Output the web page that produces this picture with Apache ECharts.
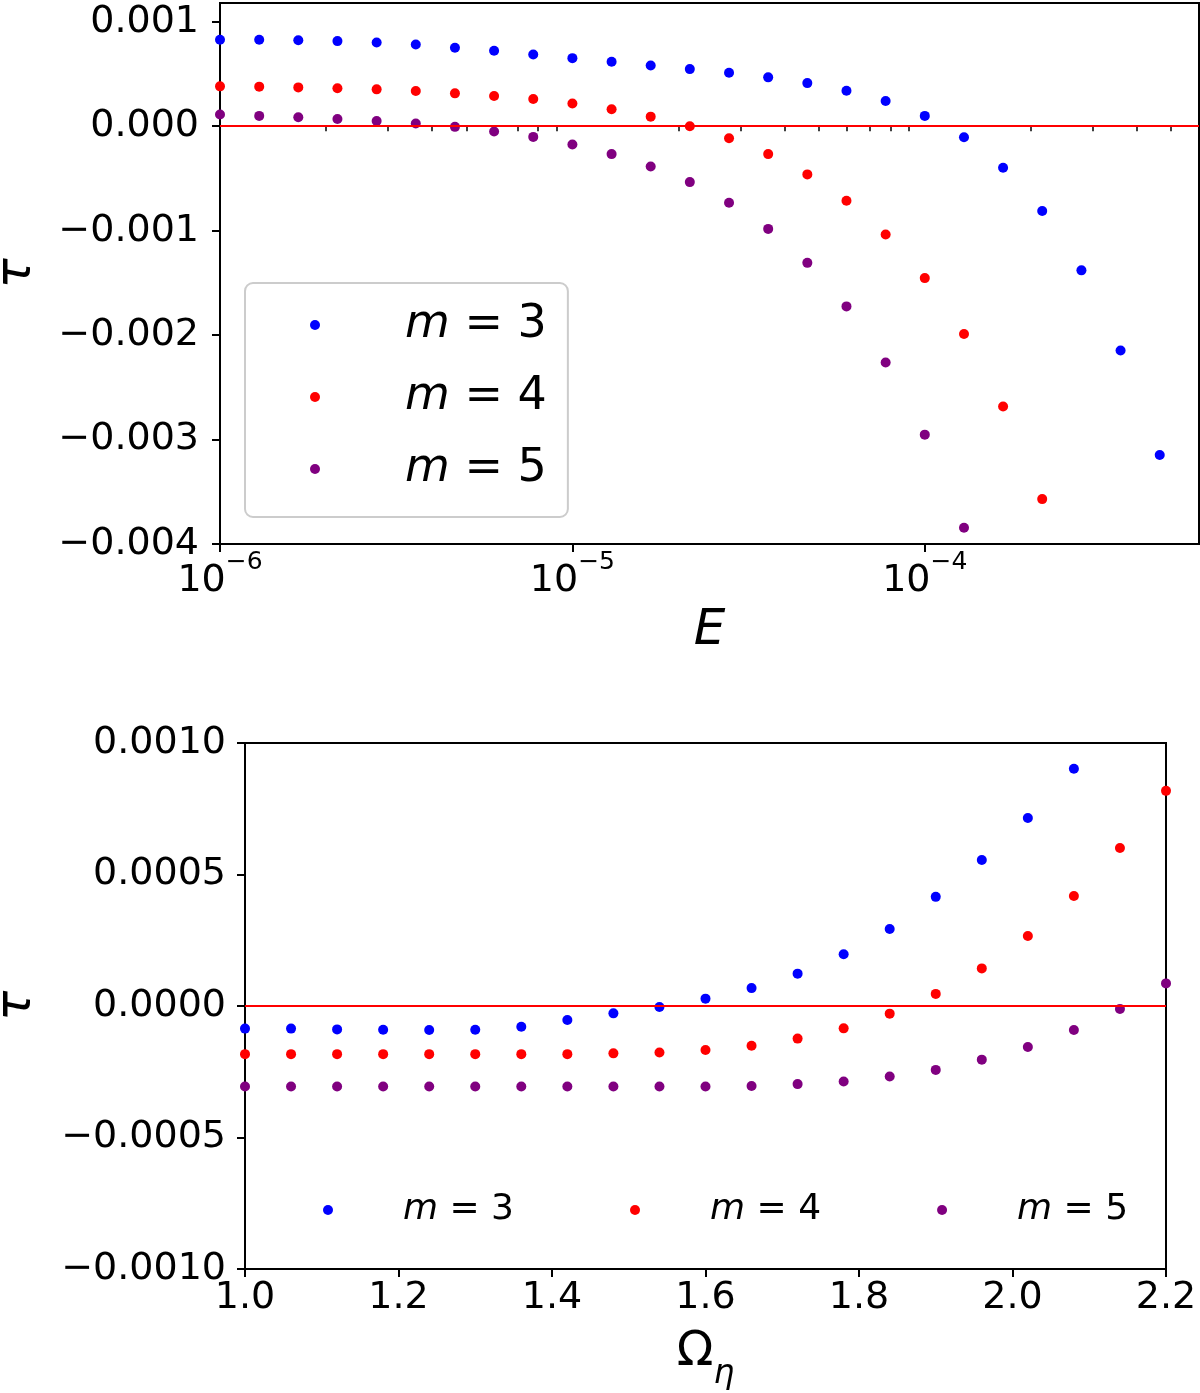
<!DOCTYPE html>
<html>
<head>
<meta charset="utf-8">
<script src="https://cdn.jsdelivr.net/npm/echarts@6/dist/echarts.min.js"></script>
<style>
html, body { margin: 0; padding: 0; background: #fff; }
#main { width: 1200px; height: 1393px; }
</style>
</head>
<body>
<div id="main"></div>
<script>
// top panel: tau against E (log scale)
var E = [1.000e-6, 1.292e-6, 1.668e-6, 2.154e-6, 2.783e-6, 3.594e-6, 4.642e-6, 5.995e-6, 7.743e-6,
         1.000e-5, 1.292e-5, 1.668e-5, 2.154e-5, 2.783e-5, 3.594e-5, 4.642e-5, 5.995e-5, 7.743e-5,
         1.000e-4, 1.292e-4, 1.668e-4, 2.154e-4, 2.783e-4, 3.594e-4, 4.642e-4];
var tauE_m3 = [0.000828, 0.000828, 0.000824, 0.000815, 0.000802, 0.000783, 0.000751, 0.000723, 0.000687,
               0.000652, 0.000618, 0.000582, 0.000547, 0.000512, 0.000468, 0.000413, 0.000340, 0.000242,
               0.000099, -0.000105, -0.000398, -0.000812, -0.001380, -0.002148, -0.003147];
var tauE_m4 = [0.000382, 0.000379, 0.000372, 0.000363, 0.000353, 0.000337, 0.000315, 0.000290, 0.000261,
               0.000217, 0.000162, 0.000092, 0.000000, -0.000115, -0.000267, -0.000461, -0.000713, -0.001037,
               -0.001454, -0.001989, -0.002683, -0.003570];
var tauE_m5 = [0.000112, 0.000099, 0.000086, 0.000070, 0.000051, 0.000026, -0.000006, -0.000051, -0.000102,
               -0.000175, -0.000267, -0.000385, -0.000535, -0.000732, -0.000983, -0.001308, -0.001725, -0.002263,
               -0.002953, -0.003844];

// bottom panel: tau against Omega_eta
var omega = [1.00, 1.06, 1.12, 1.18, 1.24, 1.30, 1.36, 1.42, 1.48, 1.54, 1.60,
             1.66, 1.72, 1.78, 1.84, 1.90, 1.96, 2.02, 2.08, 2.14, 2.20];
var tauO_m3 = [-0.000086, -0.000086, -0.000089, -0.000090, -0.000091, -0.000090, -0.000079, -0.000053, -0.000028,
               -0.000004, 0.000028, 0.000068, 0.000123, 0.000197, 0.000293, 0.000415, 0.000555, 0.000715, 0.000902];
var tauO_m4 = [-0.000183, -0.000183, -0.000183, -0.000183, -0.000183, -0.000183, -0.000183, -0.000183, -0.000180,
               -0.000177, -0.000167, -0.000151, -0.000124, -0.000085, -0.000029, 0.000046, 0.000143, 0.000266,
               0.000418, 0.000601, 0.000818];
var tauO_m5 = [-0.000306, -0.000306, -0.000306, -0.000306, -0.000306, -0.000306, -0.000306, -0.000306, -0.000306,
               -0.000306, -0.000306, -0.000304, -0.000297, -0.000287, -0.000268, -0.000243, -0.000204, -0.000156,
               -0.000091, -0.000011, 0.000086];

var topYTicks = [-0.004, -0.003, -0.002, -0.001, 0, 0.001];
var topXTicks = [1e-6, 1e-5, 1e-4];
var topXMinor = [2e-6, 3e-6, 4e-6, 5e-6, 6e-6, 7e-6, 8e-6, 9e-6,
                 2e-5, 3e-5, 4e-5, 5e-5, 6e-5, 7e-5, 8e-5, 9e-5,
                 2e-4, 3e-4, 4e-4, 5e-4];
var names = ['m = 3', 'm = 4', 'm = 5'];
var colors = ['#0000ff', '#ff0000', '#800080'];

var FONT = 'DejaVu Sans';

function pairs(xs, ys) {
  return ys.map(function (y, i) { return [xs[i], y]; });
}
function fmt(v, d) {
  var s = Math.abs(v).toFixed(d);
  return (v < -1e-12 ? '\u2212' : '') + s;
}

var myChart = echarts.init(document.getElementById('main'), null, { renderer: 'canvas' });

var labelStyle = { color: '#000', fontFamily: FONT, fontSize: 38 };
var lineStyle = { color: '#000', width: 2 };

function scatter(name, data, color, xi, yi) {
  return {
    name: name, type: 'scatter', xAxisIndex: xi, yAxisIndex: yi,
    symbol: 'circle', symbolSize: 10, data: data,
    itemStyle: { color: color, opacity: 1 }, z: 2
  };
}
function zeroLine(xi, yi) {
  return {
    name: 'zero', type: 'scatter', xAxisIndex: xi, yAxisIndex: yi, data: [], z: 3,
    markLine: {
      silent: true, symbol: 'none', animation: false,
      label: { show: false },
      lineStyle: { color: '#ff0000', width: 2, type: 'solid' },
      data: [{ yAxis: 0 }]
    }
  };
}
function legendFmt(name) { return '{i|m}' + name.slice(1); }

var option = {
  backgroundColor: '#fff',
  animation: false,
  grid: [
    { left: 220, top: 3, width: 979, height: 541, show: true, borderColor: '#000', borderWidth: 2,
      outerBoundsMode: 'none', containLabel: false },
    { left: 245, top: 743, width: 921, height: 526, show: true, borderColor: '#000', borderWidth: 2,
      outerBoundsMode: 'none', containLabel: false }
  ],
  legend: [
    {
      data: names, orient: 'vertical', left: 245, top: 283,
      icon: 'circle', itemWidth: 10, itemHeight: 10, itemGap: 16,
      padding: [14, 21, 20, 65],
      backgroundColor: 'rgba(255,255,255,0.8)',
      borderColor: '#cccccc', borderWidth: 2, borderRadius: 8,
      formatter: legendFmt,
      textStyle: {
        color: '#000', fontFamily: FONT, fontSize: 46, lineHeight: 56, padding: [0, 0, 0, 80],
        rich: { i: { fontStyle: 'italic', fontFamily: FONT, fontSize: 46, lineHeight: 56 } }
      }
    },
    {
      data: names, orient: 'horizontal', left: 323, top: 1188,
      icon: 'circle', itemWidth: 10, itemHeight: 10, itemGap: 116,
      padding: 0,
      formatter: legendFmt,
      textStyle: {
        color: '#000', fontFamily: FONT, fontSize: 36, lineHeight: 44, padding: [0, 0, 0, 65],
        rich: { i: { fontStyle: 'italic', fontFamily: FONT, fontSize: 36, lineHeight: 44 } }
      }
    }
  ],
  xAxis: [
    {
      gridIndex: 0, type: 'log', logBase: 10, min: 1e-6, max: 6e-4, position: 'bottom',
      name: 'E', nameLocation: 'middle', nameGap: 62,
      nameTextStyle: { color: '#000', fontFamily: FONT, fontSize: 50, fontStyle: 'italic' },
      axisLine: { onZero: false, lineStyle: lineStyle },
      axisTick: { customValues: topXTicks, length: 8, lineStyle: lineStyle },
      axisLabel: {
        customValues: topXTicks, margin: 6,
        formatter: function (v) {
          var ex = Math.round(Math.log10(v));
          return '{b|10}{s|' + (ex < 0 ? '\u2212' : '') + Math.abs(ex) + '}';
        },
        rich: {
          b: { color: '#000', fontFamily: FONT, fontSize: 38, lineHeight: 50, verticalAlign: 'bottom' },
          s: { color: '#000', fontFamily: FONT, fontSize: 25, lineHeight: 25, verticalAlign: 'top' }
        }
      },
      splitLine: { show: false }
    },
    {
      gridIndex: 0, type: 'log', logBase: 10, min: 1e-6, max: 6e-4, position: 'bottom',
      axisLine: { show: false },
      axisTick: { customValues: topXMinor, length: 5, lineStyle: { color: '#000', width: 1.5 } },
      axisLabel: { show: false },
      splitLine: { show: false }
    },
    {
      gridIndex: 1, type: 'value', min: 1.0, max: 2.2, interval: 0.2, position: 'bottom',
      name: '\u03A9{sub|\u03B7}', nameLocation: 'middle', nameGap: 60,
      nameTextStyle: {
        color: '#000', fontFamily: FONT, fontSize: 48,
        rich: { sub: { fontFamily: FONT, fontSize: 33, fontStyle: 'italic', verticalAlign: 'bottom', padding: [0, 0, -14, 0] } }
      },
      axisLine: { onZero: false, lineStyle: lineStyle },
      axisTick: { length: 8, lineStyle: lineStyle },
      axisLabel: Object.assign({ margin: 10, formatter: function (v) { return v.toFixed(1); } }, labelStyle),
      splitLine: { show: false }
    }
  ],
  yAxis: [
    {
      gridIndex: 0, type: 'value', min: -0.004, max: 0.00118,
      name: '\u03C4', nameLocation: 'middle', nameGap: 178,
      nameTextStyle: { color: '#000', fontFamily: FONT, fontSize: 50, fontStyle: 'italic' },
      axisLine: { onZero: false, lineStyle: lineStyle },
      axisTick: { customValues: topYTicks, length: 8, lineStyle: lineStyle },
      axisLabel: Object.assign({ customValues: topYTicks, margin: 21, formatter: function (v) { return fmt(v, 3); } }, labelStyle),
      splitLine: { show: false }
    },
    {
      gridIndex: 1, type: 'value', min: -0.001, max: 0.001, interval: 0.0005,
      name: '\u03C4', nameLocation: 'middle', nameGap: 203,
      nameTextStyle: { color: '#000', fontFamily: FONT, fontSize: 50, fontStyle: 'italic' },
      axisLine: { onZero: false, lineStyle: lineStyle },
      axisTick: { length: 8, lineStyle: lineStyle },
      axisLabel: Object.assign({ margin: 19, formatter: function (v) { return fmt(v, 4); } }, labelStyle),
      splitLine: { show: false }
    }
  ],
  series: [
    scatter(names[0], pairs(E, tauE_m3), colors[0], 0, 0),
    scatter(names[1], pairs(E, tauE_m4), colors[1], 0, 0),
    scatter(names[2], pairs(E, tauE_m5), colors[2], 0, 0),
    zeroLine(0, 0),
    scatter(names[0], pairs(omega, tauO_m3), colors[0], 2, 1),
    scatter(names[1], pairs(omega, tauO_m4), colors[1], 2, 1),
    scatter(names[2], pairs(omega, tauO_m5), colors[2], 2, 1),
    zeroLine(2, 1)
  ]
};

myChart.setOption(option);
addEventListener('resize', function () {
  setTimeout(function () { myChart.resize(); }, 30);
});
</script>
</body>
</html>
